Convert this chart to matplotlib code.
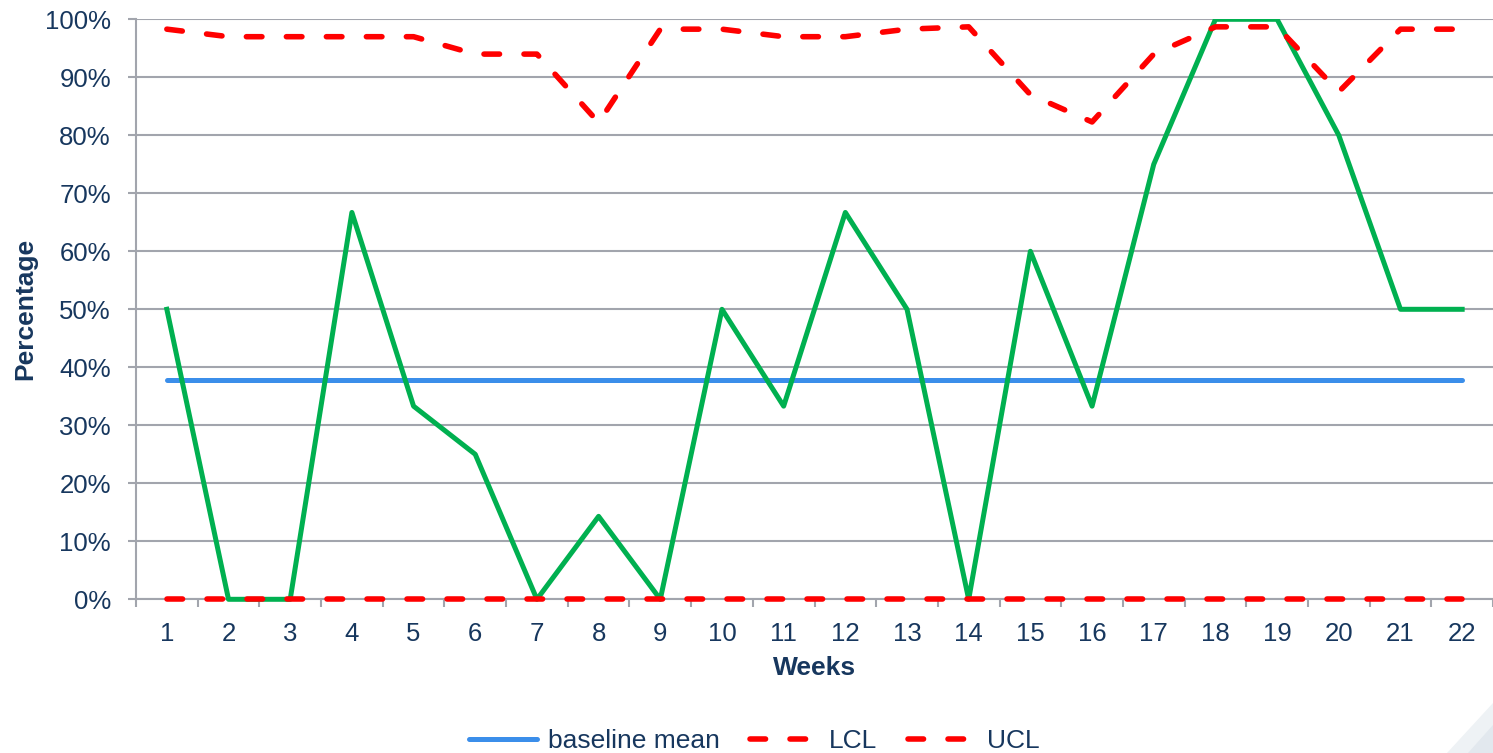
import matplotlib
matplotlib.use("Agg")
import matplotlib.pyplot as plt
from matplotlib.patches import Rectangle, Polygon
from matplotlib.lines import Line2D

# Weekly compliance percentage with control limits
weeks = list(range(1, 23))
percentage = [50, 0, 0, 66.7, 33.3, 25, 0, 14.3, 0, 50, 33.3, 66.7,
              50, 0, 60, 33.3, 75, 100, 100, 80, 50, 50]
baseline_mean = [37.8] * 22
lcl = [0] * 22
ucl = [98.3, 97, 97, 97, 97, 94, 94, 82.2, 98.3, 98.3, 97, 97,
       98.3, 98.7, 87, 82.3, 94, 98.7, 98.7, 87.5, 98.3, 98.3]
y_ticks = list(range(0, 101, 10))

NAVY = "#17375E"
GRID = "#A2A5AD"
GREEN = "#00B050"
BLUE = "#3B8EEA"
RED = "#FF0000"

plt.rcParams["font.family"] = ["Liberation Sans", "DejaVu Sans"]

W, H = 1493, 753
fig = plt.figure(figsize=(W / 100, H / 100), dpi=100)
fig.patch.set_facecolor("white")

# subtle slide decoration in the lower-right corner
fig.patches.append(Polygon([(1447 / W, 0), (1.0, 50 / H), (1.0, 0)], closed=True,
                           transform=fig.transFigure, facecolor="#EEF2F5",
                           edgecolor="none", zorder=0))
fig.patches.append(Polygon([(1468 / W, 0), (1.0, 28 / H), (1.0, 0)], closed=True,
                           transform=fig.transFigure, facecolor="#E2E8EE",
                           edgecolor="none", zorder=0))

left, right = 136 / W, 1.0
top, bottom = 1 - 19.3 / H, 1 - 599.3 / H
ax = fig.add_axes([left, bottom, right - left, top - bottom])

ax.set_xlim(0.5, 22.5)
ax.set_ylim(0, 100)

ax.set_yticks(y_ticks)
ax.set_yticklabels([f"{v}%" for v in y_ticks])
ax.yaxis.grid(True, color=GRID, linewidth=1.5)
ax.set_axisbelow(True)

ax.set_xticks(weeks)
ax.set_xticklabels([str(w) for w in weeks])
ax.set_xticks([w - 0.5 for w in weeks] + [22.5], minor=True)
ax.tick_params(axis="x", which="major", length=0, pad=16, labelsize=18.5, labelcolor=NAVY)
ax.tick_params(axis="x", which="minor", length=6, width=1.5, color=GRID, direction="out")
ax.tick_params(axis="y", which="major", length=6, width=1.5, color=GRID, pad=12,
               labelsize=18.5, labelcolor=NAVY)

for side in ("top", "right"):
    ax.spines[side].set_visible(False)
for side in ("left", "bottom"):
    ax.spines[side].set_color(GRID)
    ax.spines[side].set_linewidth(1.5)

clip = Rectangle((0.5, -5), 22, 105, transform=ax.transData, visible=False)
ax.add_patch(clip)

dash = (0, (2.8, 4.4))
ax.plot(weeks, baseline_mean, color=BLUE, lw=3.6, solid_capstyle="round",
        zorder=3, clip_on=False)
g, = ax.plot(weeks, percentage, color=GREEN, lw=3.6, zorder=4)
g.set_clip_path(clip)
ax.plot(weeks, lcl, color=RED, lw=4, linestyle=dash, dash_capstyle="round",
        zorder=5, clip_on=False)
ax.plot(weeks, ucl, color=RED, lw=4, linestyle=dash, dash_capstyle="round",
        zorder=5, clip_on=False)

ax.set_xlabel("Weeks", fontsize=19, fontweight="bold", color=NAVY)
ax.xaxis.set_label_coords(0.5, (599.3 - 668) / 580)
ax.xaxis.label.set_va("center")
ax.set_ylabel("Percentage", fontsize=19, fontweight="bold", color=NAVY)
ax.yaxis.set_label_coords((25 - 136) / 1357, 0.5)
ax.yaxis.label.set_va("center")

handles = [
    Line2D([], [], color=BLUE, lw=3.6, solid_capstyle="round"),
    Line2D([], [], color=RED, lw=4, linestyle=dash, dash_capstyle="round"),
    Line2D([], [], color=RED, lw=4, linestyle=dash, dash_capstyle="round"),
]
leg = fig.legend(handles, ["baseline mean", "LCL", "UCL"], ncol=3,
                 loc="center", bbox_to_anchor=(754 / W, 1 - 741 / H),
                 frameon=False, fontsize=19, handlelength=2.6,
                 handletextpad=0.4, columnspacing=1.15)
for t in leg.get_texts():
    t.set_color(NAVY)

fig.savefig("out.png", dpi=100, facecolor="white")
